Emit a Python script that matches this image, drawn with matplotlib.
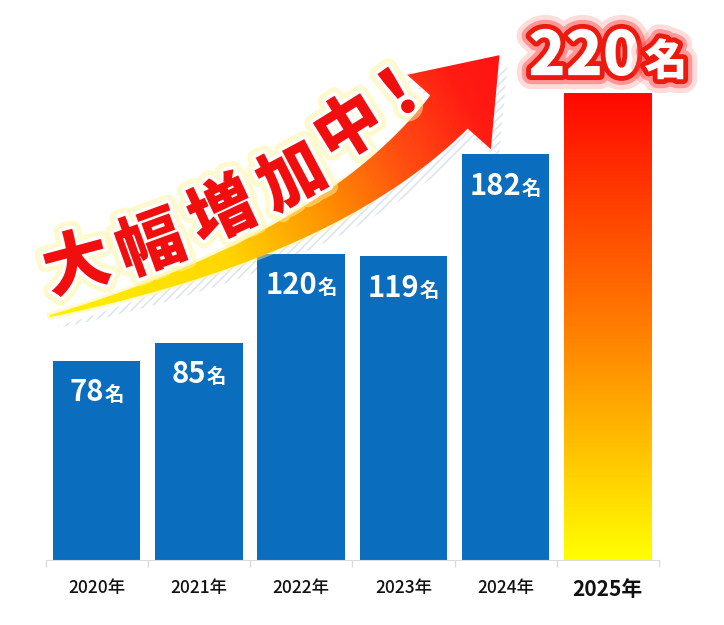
import numpy as np
import matplotlib
matplotlib.use('Agg')
import matplotlib.pyplot as plt
import matplotlib.patheffects as pe
from matplotlib.colors import LinearSegmentedColormap
from matplotlib.patches import Polygon

plt.rcParams['font.family'] = ['Noto Sans CJK JP', 'DejaVu Sans']
plt.rcParams['hatch.linewidth'] = 1.2

years = ['2020年', '2021年', '2022年', '2023年', '2024年', '2025年']
counts = [78, 85, 120, 119, 182, 220]
unit = '名'
headline = '大幅増加中！'

blue = '#0a6dbd'
W, H = 724, 625

fig = plt.figure(figsize=(W / 100, H / 100), dpi=100)
fig.patch.set_facecolor('white')

# background layer (hatched shadow), chart, front layer (arrow + headline)
back = fig.add_axes([0, 0, 1, 1], zorder=0)
back.set_xlim(0, W); back.set_ylim(H, 0); back.axis('off')

ax = fig.add_axes([45.5 / W, 1 - 560 / H, 613.5 / W, 560 / H], zorder=1)
ax.patch.set_alpha(0)

front = fig.add_axes([0, 0, 1, 1], zorder=2)
front.set_xlim(0, W); front.set_ylim(H, 0); front.axis('off')
front.patch.set_alpha(0)

# the original chart is compressed above 120
brk_v = [0, 120, 400]
brk_f = [0, 120, 120 + 280 * 0.63]
ax.set_yscale('function', functions=(lambda v: np.interp(v, brk_v, brk_f),
                                     lambda f: np.interp(f, brk_f, brk_v)))

x = np.arange(len(years))
bars = ax.bar(x, counts, width=0.855, color=blue, zorder=2)
bars[-1].set_facecolor('none')
ax.set_xlim(-0.5, 5.5)
ax.set_ylim(0, 278)
ax.set_autoscale_on(False)

# gradient on last bar
top_frac = ax.transAxes.inverted().transform(ax.transData.transform((0, counts[-1])))[1]
bar_cmap = LinearSegmentedColormap.from_list('bar', [(0, '#ffff00'), (0.5, '#ff7d00'), (1, '#ff0800')])
grad = np.linspace(0, 1, 256).reshape(-1, 1)
im = ax.imshow(grad, cmap=bar_cmap, origin='lower', aspect='auto',
               extent=[0, 1, 0, top_frac], transform=ax.transAxes, zorder=2)
im.set_clip_path(bars[-1])
ax.set_xlim(-0.5, 5.5)
ax.set_ylim(0, 278)

# axis styling
for s in ['left', 'top', 'right']:
    ax.spines[s].set_visible(False)
ax.spines['bottom'].set_color('#dcdcdc')
ax.set_yticks([])
ax.tick_params(axis='y', which='both', left=False, labelleft=False)
ax.set_xticks(x)
ax.set_xticklabels(years, fontweight='medium')
ax.tick_params(axis='x', which='major', length=0, pad=14, labelsize=12.5, labelcolor='#111111')
ax.set_xticks(np.arange(-0.5, len(years), 1), minor=True)
ax.tick_params(axis='x', which='minor', length=5, width=1, color='#dcdcdc')
lbl = ax.get_xticklabels()
lbl[-1].set_fontsize(15)
lbl[-1].set_fontweight('bold')

# value labels
pairs = []
for i, v in enumerate(counts[:-1]):
    tn = ax.annotate(str(v), (i, v), xytext=(0, -29), textcoords='offset points',
                     ha='right', va='baseline', color='white', fontsize=21,
                     fontweight='bold', zorder=4)
    tm = ax.annotate(unit, (i, v), xytext=(0, -29), textcoords='offset points',
                     ha='left', va='baseline', color='white', fontsize=14,
                     fontweight='bold', zorder=4)
    pairs.append((tn, tm, -29, 0.5))

red = '#ec1a0e'
big_fx = [pe.Stroke(linewidth=20, foreground='#ff5050', alpha=0.2),
          pe.Stroke(linewidth=13, foreground='#ff3030', alpha=0.4),
          pe.Stroke(linewidth=7, foreground=red), pe.Normal()]
tn = ax.annotate(str(counts[-1]), (len(counts) - 1, counts[-1]), xytext=(0, 13),
                 textcoords='offset points', ha='right', va='baseline', color='white',
                 fontsize=44, fontweight='black', zorder=5, annotation_clip=False,
                 path_effects=big_fx)
tm = ax.annotate(unit, (len(counts) - 1, counts[-1]), xytext=(0, 13),
                 textcoords='offset points', ha='left', va='baseline', color='white',
                 fontsize=31, fontweight='black', zorder=5, annotation_clip=False,
                 path_effects=big_fx)
pairs.append((tn, tm, 13, 3))

renderer = fig.canvas.get_renderer()
for tn, tm, dy, gap in pairs:
    wn = tn.get_window_extent(renderer).width
    wm = tm.get_window_extent(renderer).width
    shift = (wn - wm) / 2 * 72 / fig.dpi
    tn.xyann = (shift - gap / 2, dy)
    tm.xyann = (shift + gap / 2, dy)

# curved arrow (pixel coordinates, y down)
P0 = np.array([50.0, 316.0])
P1 = np.array([330.0, 246.0])
P2 = np.array([449.0, 112.0])
t = np.linspace(0, 1, 120)[:, None]
curve = (1 - t) ** 2 * P0 + 2 * (1 - t) * t * P1 + t ** 2 * P2
deriv = 2 * (1 - t) * (P1 - P0) + 2 * t * (P2 - P1)
u = deriv / np.linalg.norm(deriv, axis=1, keepdims=True)
n = np.column_stack([u[:, 1], -u[:, 0]])
w = (2 + 48 * t) / 2
upper = curve + n * w
lower = curve - n * w
ue, ne = u[-1], n[-1]
head = [P2 + ne * 56, P2 + ue * 76, P2 - ne * 56]
verts = np.vstack([upper, head, lower[::-1]])

shadow = Polygon(verts + np.array([8, 11]), closed=True, facecolor='none',
                 edgecolor='#dde6ef', hatch='////', linewidth=0)
back.add_patch(shadow)

halo = Polygon(np.vstack([upper[:80], lower[79::-1]]), closed=True, facecolor='#fff59a',
               edgecolor='#fff59a', linewidth=4, alpha=0.45, zorder=1)
front.add_patch(halo)
arrow = Polygon(verts, closed=True, facecolor='none', edgecolor='none', zorder=2)
front.add_patch(arrow)

gx, gy = np.meshgrid(np.arange(W), np.arange(H))
d = np.array([450.0, -261.0])
s = ((gx - 50) * d[0] + (gy - 316) * d[1]) / (d @ d)
arrow_cmap = LinearSegmentedColormap.from_list(
    'arrow', [(0, '#fff200'), (0.35, '#ffd600'), (0.55, '#ff9400'),
              (0.75, '#ff4a12'), (0.9, '#ff1c12'), (1, '#ff1212')])
aim = front.imshow(np.clip(s, 0, 1), cmap=arrow_cmap, vmin=0, vmax=1,
                   extent=[0, W, H, 0], origin='upper', aspect='auto', zorder=2)
aim.set_clip_path(arrow)
front.set_xlim(0, W); front.set_ylim(H, 0)

# headline along the arrow
centers = [(77, 266), (151, 246), (223, 213), (293, 179), (350, 130), (400, 95)]
rots = [15, 20, 25, 28, 32, 35]
txt_fx = [pe.Stroke(linewidth=12, foreground='#fff4a0', alpha=0.5),
          pe.Stroke(linewidth=5, foreground='white'), pe.Normal()]
for ch, (cx, cy), r in zip(headline, centers, rots):
    front.text(cx, cy, ch, rotation=r, rotation_mode='anchor', ha='center', va='center',
               fontsize=48, fontweight='black', color='#f10e0e', zorder=3,
               path_effects=txt_fx)

fig.savefig('out.png', dpi=100, facecolor='white')
